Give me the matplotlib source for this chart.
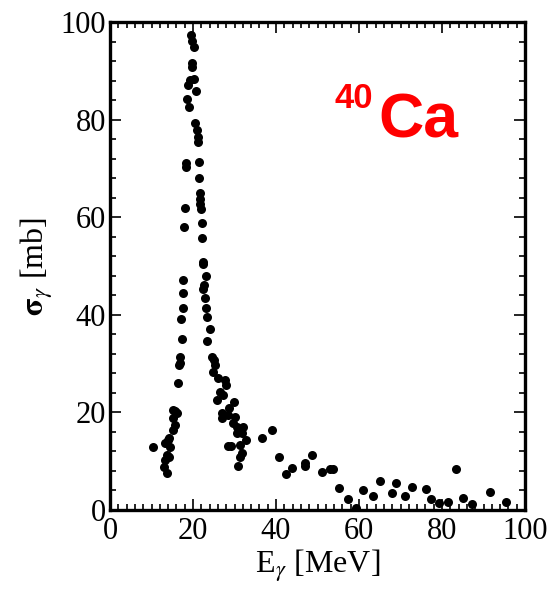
import matplotlib
matplotlib.use("Agg")
import matplotlib.pyplot as plt
from matplotlib.ticker import MultipleLocator

plt.rcParams['font.family'] = ['Liberation Serif', 'DejaVu Serif']
plt.rcParams['mathtext.fontset'] = 'stix'

# Photoabsorption cross section of 40Ca
energy = [10.4, 13.0, 13.7, 13.3, 13.7, 14.2, 13.3, 14.0, 14.5, 14.3,
          15.2, 16.1, 15.2, 15.7, 15.2, 15.7, 16.4, 16.6,
          16.9, 16.9, 17.3, 17.1, 17.6, 17.6, 17.6,
          17.8, 18.1, 18.3, 18.3,
          18.6, 19.0, 18.8, 19.3, 19.8, 19.8, 19.5, 19.8, 20.2, 20.2, 20.7,
          20.5, 21.0, 21.2, 21.2,
          21.4, 21.4, 21.7, 21.7, 21.9, 21.7,
          22.2, 22.2,
          22.4, 22.4, 23.1, 22.7, 22.4, 22.9, 23.1, 23.4, 24.1, 23.4,
          24.6, 25.1, 25.3, 24.8, 26.0, 27.7, 28.0,
          26.5, 27.2, 25.8, 29.9, 28.7, 27.0, 27.0, 28.4, 30.1, 29.6, 30.6, 32.0, 31.8, 30.6,
          28.4, 29.2, 31.3, 32.8, 31.8, 31.3, 30.8,
          36.6, 39.0, 40.7, 42.4, 43.9, 47.0, 47.0, 48.7, 51.1, 53.0, 53.8,
          55.2, 57.3, 59.3, 61.0, 63.4, 65.1, 67.9, 68.9, 71.1, 72.8, 76.1, 77.3,
          79.3, 81.4, 83.4, 85.1, 87.2, 91.6, 95.4]
sigma = [12.9, 8.8, 7.6, 10.2, 11.3, 10.8, 13.7, 14.3, 12.9, 14.8,
         20.5, 19.9, 18.9, 17.4, 16.4, 20.3, 26.0, 29.7,
         31.4, 30.1, 35.0, 39.1, 41.4, 44.5, 47.1,
         58.0, 61.9, 71.1, 70.3,
         84.2, 82.6, 87.1, 88.1, 91.6, 90.8, 97.3, 96.2, 94.9, 88.3, 85.9,
         79.3, 77.9, 76.4, 75.5,
         71.3, 68.0, 65.0, 63.7, 61.7, 62.7,
         58.8, 55.7,
         50.4, 50.8, 48.0, 46.1, 45.3, 43.4, 41.4, 39.5, 37.1, 34.6,
         31.4, 30.7, 29.7, 28.3, 27.0, 26.6, 25.6,
         24.2, 23.6, 22.5, 22.1, 20.9, 19.9, 18.9, 19.5, 19.1, 17.8, 17.0, 17.0, 15.8, 15.8,
         13.1, 13.1, 13.3, 14.3, 11.7, 10.9, 9.0,
         14.8, 16.4, 10.9, 7.4, 8.6, 9.0, 9.6, 11.3, 7.8, 8.4, 8.4,
         4.5, 2.3, 0.4, 4.1, 2.9, 6.0, 3.5, 5.5, 2.9, 4.7, 4.3, 2.3,
         1.4, 1.6, 8.4, 2.5, 1.2, 3.7, 1.6]

x_ticks = [0, 20, 40, 60, 80, 100]
y_ticks = [0, 20, 40, 60, 80, 100]

fig = plt.figure(figsize=(5.59, 6.02), dpi=100)
ax = fig.add_axes([110/559, 1-510/602, 415/559, 488/602])

ax.plot(energy, sigma, linestyle='none', marker='o', color='black',
        markersize=6.5, markeredgewidth=0)

ax.set_xlim(0, 100)
ax.set_ylim(0, 100)
ax.set_xticks(x_ticks)
ax.set_yticks(y_ticks)
ax.xaxis.set_minor_locator(MultipleLocator(2))
ax.yaxis.set_minor_locator(MultipleLocator(4))
ax.tick_params(which='both', direction='in', top=True, right=True,
               width=1.2, colors='black')
ax.tick_params(which='major', length=8, labelsize=22)
ax.tick_params(which='minor', length=4.3)
ax.tick_params(axis='x', which='major', pad=5)
ax.tick_params(axis='y', which='major', pad=3)
for s in ax.spines.values():
    s.set_linewidth(2.4)

ax.set_xlabel(r'E$_\gamma$ [MeV]', fontsize=23, labelpad=1)
ax.set_ylabel(r'$\mathbf{\sigma}_\gamma$ [mb]', fontsize=23, labelpad=4)

ax.text(54.2, 82.4, '40', color='red', fontsize=25, fontweight='bold',
        family=['Liberation Sans', 'DejaVu Sans'], ha='left', va='baseline')
ax.text(64.6, 76.4, 'Ca', color='red', fontsize=45, fontweight='bold',
        family=['Liberation Sans', 'DejaVu Sans'], ha='left', va='baseline')

fig.savefig('out.png', dpi=100)
